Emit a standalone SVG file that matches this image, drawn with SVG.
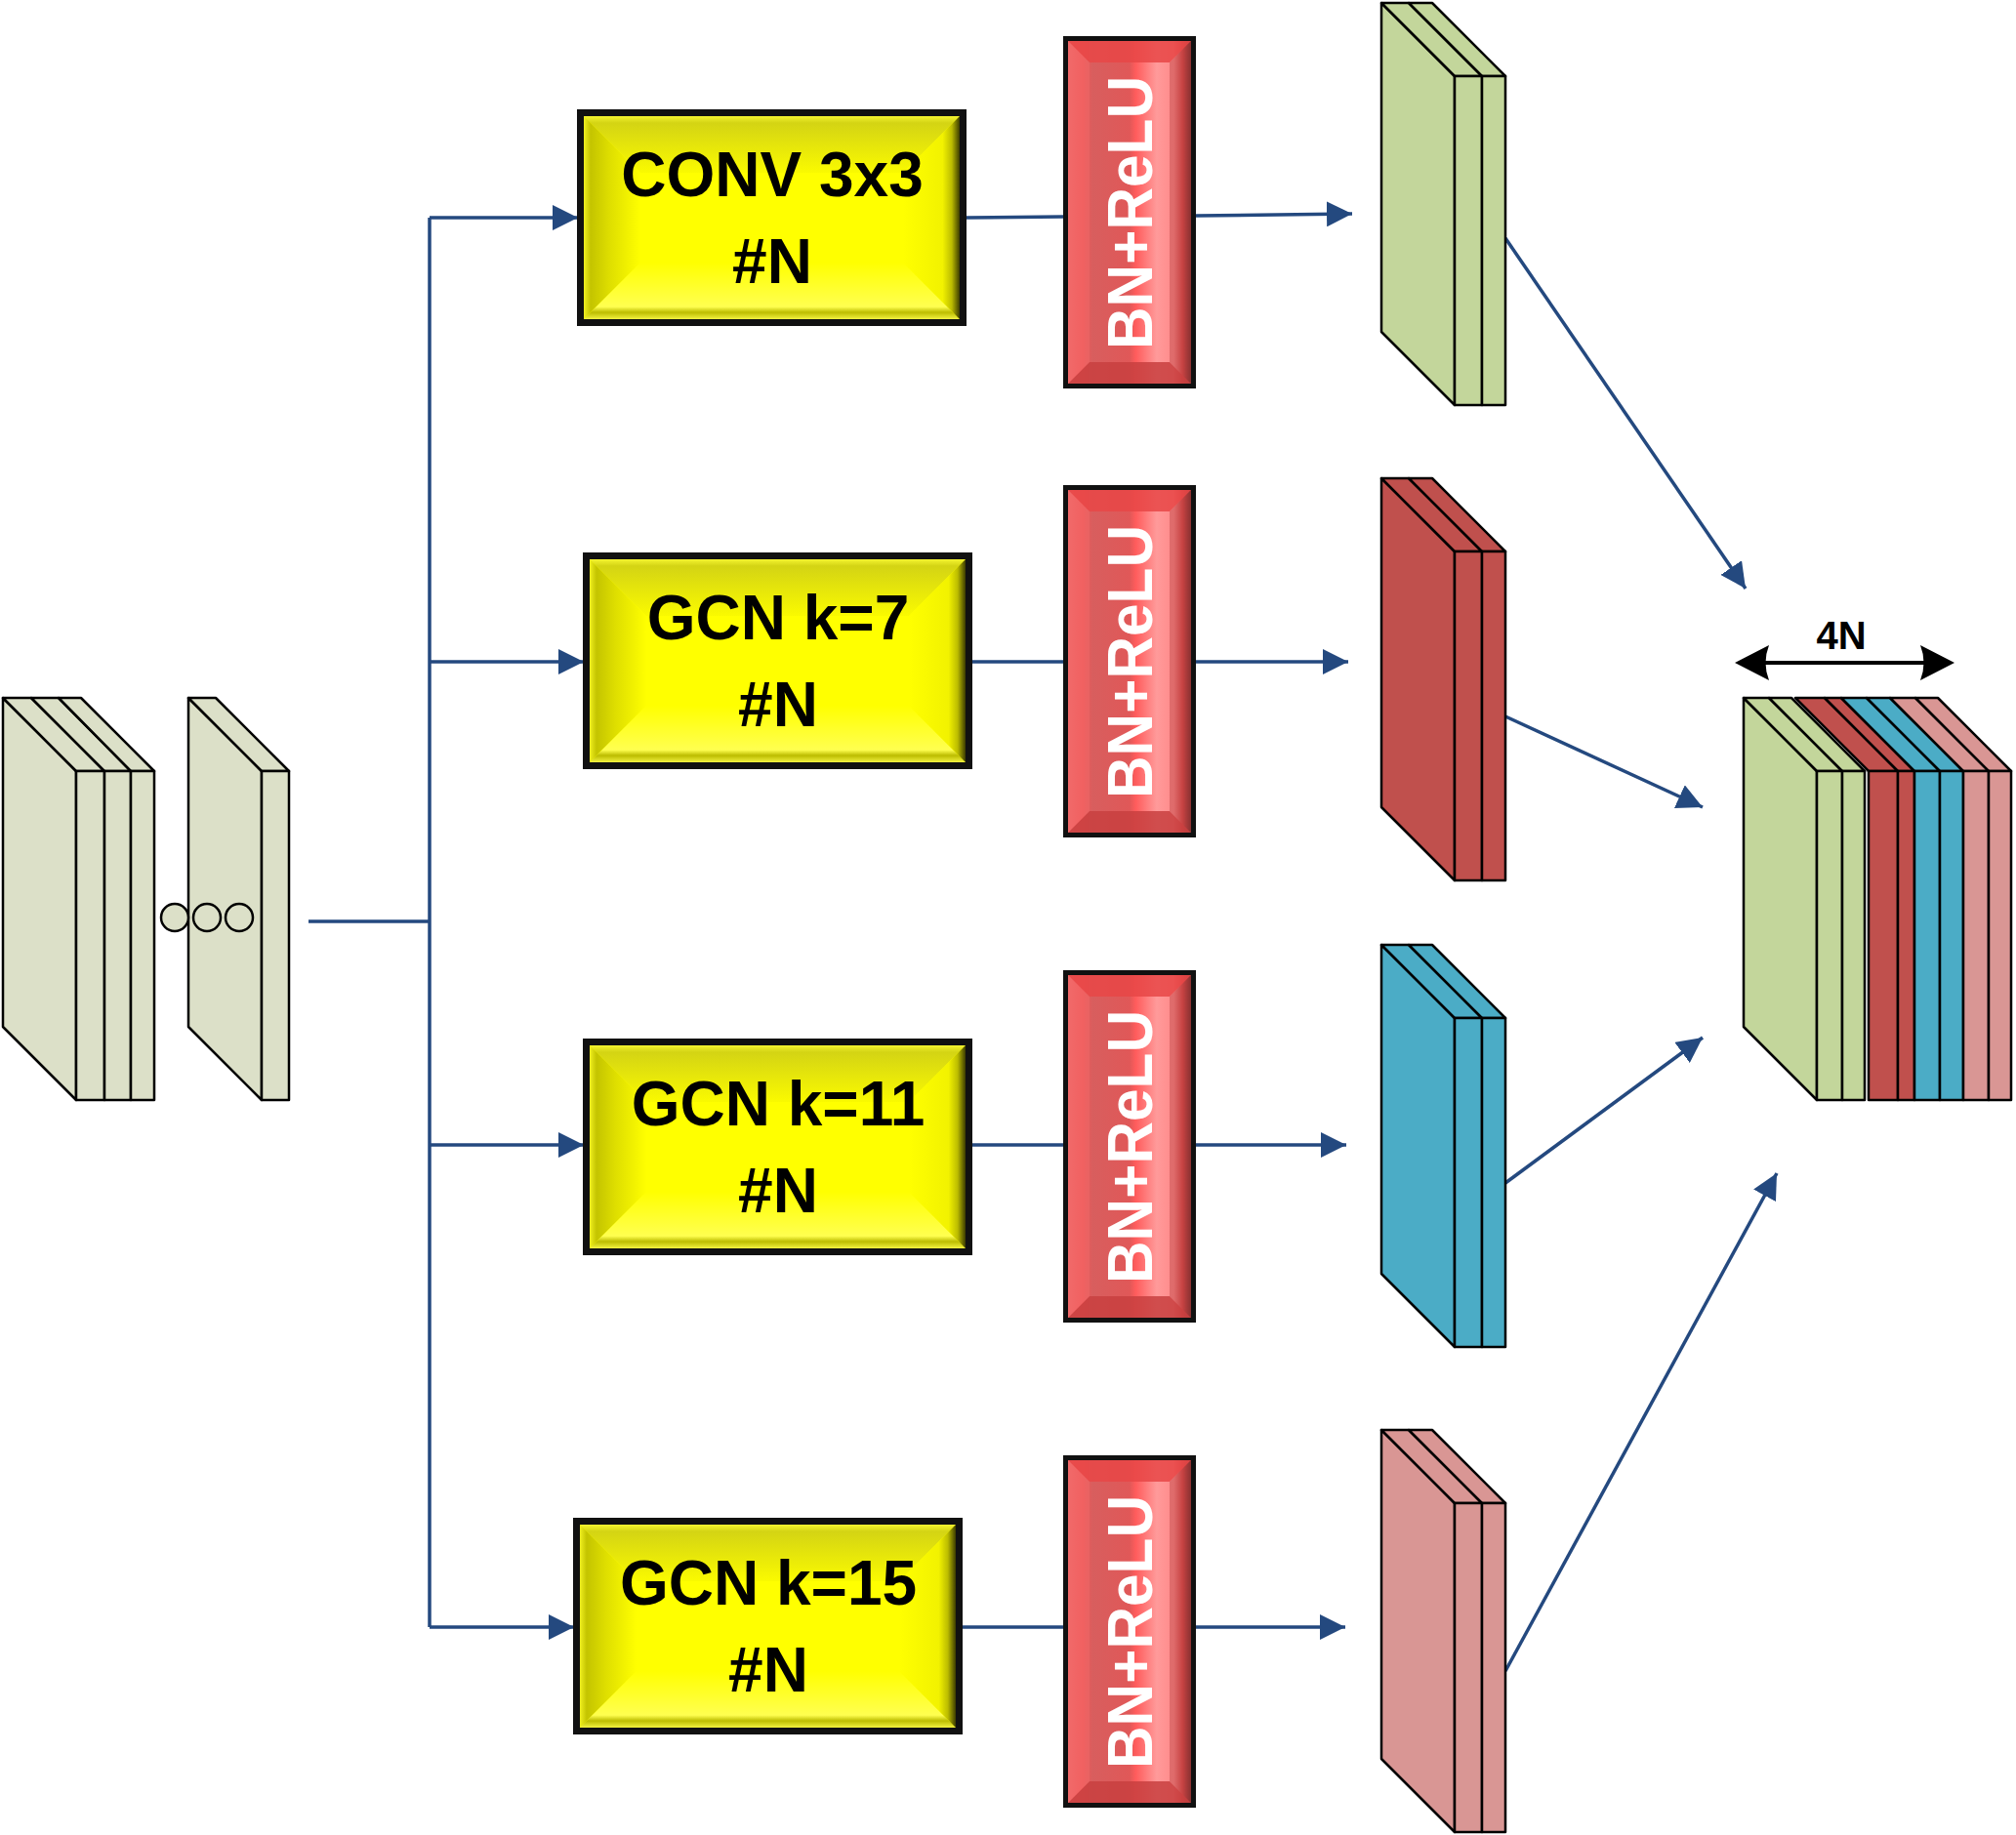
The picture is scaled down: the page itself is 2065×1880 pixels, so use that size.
<svg xmlns="http://www.w3.org/2000/svg" xmlns:xlink="http://www.w3.org/1999/xlink" width="2065" height="1880" viewBox="0 0 2065 1880">
<style>
.lbl{font-family:"Liberation Sans",Arial,sans-serif;font-weight:bold;font-size:64px;fill:#000;text-anchor:middle}
.bn{font-family:"Liberation Sans",Arial,sans-serif;font-weight:bold;font-size:64px;fill:#fff;text-anchor:middle}
.fm{stroke:#000;stroke-width:2.5;stroke-linejoin:round}
.g{fill:#c3d69b}.r{fill:#c0504d}.b{fill:#4bacc6}.p{fill:#d99694}.i{fill:#dce0c8}
.con{fill:none;stroke:#24497f;stroke-width:3.5}
</style>
<defs>
<marker id="ah" viewBox="0 0 10 10" refX="10" refY="5" markerWidth="26" markerHeight="26" markerUnits="userSpaceOnUse" orient="auto">
<path d="M0,0 L10,5 L0,10 z" fill="#24497f"/>
</marker>
<linearGradient id="yt" x1="0" y1="0" x2="0" y2="1">
<stop offset="0" stop-color="#f4f430"/><stop offset="0.12" stop-color="#d4d414"/><stop offset="1" stop-color="#fafa00"/>
</linearGradient>
<linearGradient id="yl" x1="0" y1="0" x2="1" y2="0">
<stop offset="0" stop-color="#f0f020"/><stop offset="0.12" stop-color="#c4c400"/><stop offset="0.45" stop-color="#dede00"/><stop offset="1" stop-color="#ffff00"/>
</linearGradient>
<linearGradient id="yb" x1="0" y1="0" x2="0" y2="1">
<stop offset="0" stop-color="#ffff00"/><stop offset="0.78" stop-color="#ffff50"/><stop offset="0.88" stop-color="#bcbc00"/><stop offset="1" stop-color="#f2f240"/>
</linearGradient>
<linearGradient id="yr" x1="0" y1="0" x2="1" y2="0">
<stop offset="0" stop-color="#ffff00"/><stop offset="0.7" stop-color="#f2f200"/><stop offset="0.86" stop-color="#bcbc00"/><stop offset="1" stop-color="#3c3c00"/>
</linearGradient>
<linearGradient id="rc" x1="0" y1="0" x2="1" y2="0">
<stop offset="0" stop-color="#f26a6a"/><stop offset="0.12" stop-color="#f25858"/><stop offset="0.2" stop-color="#d85e5e"/><stop offset="0.5" stop-color="#e05858"/><stop offset="0.55" stop-color="#ff5c5c"/><stop offset="0.72" stop-color="#ff9a9a"/><stop offset="0.86" stop-color="#ff8a8a"/><stop offset="0.93" stop-color="#d84848"/><stop offset="1" stop-color="#6e2a2a"/>
</linearGradient>
<g id="ybox">
<rect x="0" y="0" width="399" height="222" fill="#111"/>
<rect x="7" y="7" width="385" height="208" fill="#ffff00"/>
<polygon points="7,7 392,7 334,65 65,65" fill="url(#yt)"/>
<polygon points="7,7 65,65 65,157 7,215" fill="url(#yl)"/>
<polygon points="7,215 65,157 334,157 392,215" fill="url(#yb)"/>
<polygon points="392,7 392,215 334,157 334,65" fill="url(#yr)"/>
</g>
<g id="rbox">
<rect x="0" y="0" width="136" height="361" fill="#111"/>
<rect x="5" y="5" width="126" height="351" fill="url(#rc)"/>
<polygon points="5,5 131,5 109,27 27,27" fill="#e84646" opacity="0.85"/>
<polygon points="5,356 27,334 109,334 131,356" fill="#c84040" opacity="0.85"/>
<polygon points="5,5 27,27 27,334 5,356" fill="#f06a6a" opacity="0.5"/>
<polygon points="131,5 109,27 109,334 131,356" fill="#b03c3c" opacity="0.4"/>
</g>
</defs>
<rect width="2065" height="1880" fill="#fff"/>

<g id="input">
<polygon class="fm i" points="3,715 78,790 78,1127 3,1052"/>
<polygon class="fm i" points="3,715 32,715 107,790 78,790"/>
<polygon class="fm i" points="32,715 60,715 134,790 107,790"/>
<polygon class="fm i" points="60,715 83,715 158,790 134,790"/>
<rect class="fm i" x="78" y="790" width="29" height="337"/>
<rect class="fm i" x="107" y="790" width="27" height="337"/>
<rect class="fm i" x="134" y="790" width="24" height="337"/>
<polygon class="fm i" points="193,715 268,790 268,1127 193,1052"/>
<polygon class="fm i" points="193,715 221,715 296,790 268,790"/>
<rect class="fm i" x="268" y="790" width="28" height="337"/>
<circle class="fm i" cx="179" cy="940" r="14"/>
<circle class="fm i" cx="212" cy="940" r="14"/>
<circle class="fm i" cx="245" cy="940" r="14"/>
</g>

<g id="connectors">
<polyline class="con" points="316,944 440,944"/>
<polyline class="con" points="440,223 440,1667"/>
<line class="con" x1="440" y1="223" x2="592" y2="223" marker-end="url(#ah)"/>
<line class="con" x1="440" y1="678" x2="598" y2="678" marker-end="url(#ah)"/>
<line class="con" x1="440" y1="1173" x2="598" y2="1173" marker-end="url(#ah)"/>
<line class="con" x1="440" y1="1667" x2="588" y2="1667" marker-end="url(#ah)"/>
<line class="con" x1="990" y1="223" x2="1089" y2="222"/>
<line class="con" x1="996" y1="678" x2="1089" y2="678"/>
<line class="con" x1="996" y1="1173" x2="1089" y2="1173"/>
<line class="con" x1="986" y1="1667" x2="1089" y2="1667"/>
<line class="con" x1="1225" y1="221" x2="1385" y2="219" marker-end="url(#ah)"/>
<line class="con" x1="1225" y1="678" x2="1381" y2="678" marker-end="url(#ah)"/>
<line class="con" x1="1225" y1="1173" x2="1379" y2="1173" marker-end="url(#ah)"/>
<line class="con" x1="1225" y1="1667" x2="1378" y2="1667" marker-end="url(#ah)"/>
<line class="con" x1="1542" y1="244" x2="1788" y2="603" marker-end="url(#ah)"/>
<line class="con" x1="1542" y1="734" x2="1744" y2="827" marker-end="url(#ah)"/>
<line class="con" x1="1542" y1="1212" x2="1744" y2="1063" marker-end="url(#ah)"/>
<line class="con" x1="1542" y1="1712" x2="1820" y2="1202" marker-end="url(#ah)"/>
</g>

<g id="conv3x3" transform="translate(591,112)">
<use xlink:href="#ybox"/>
<text class="lbl" x="200" y="89">CONV 3x3</text>
<text class="lbl" x="200" y="178">#N</text>
</g>
<g id="gcn7" transform="translate(597,566)">
<use xlink:href="#ybox"/>
<text class="lbl" x="200" y="89">GCN k=7</text>
<text class="lbl" x="200" y="178">#N</text>
</g>
<g id="gcn11" transform="translate(597,1064)">
<use xlink:href="#ybox"/>
<text class="lbl" x="200" y="89">GCN k=11</text>
<text class="lbl" x="200" y="178">#N</text>
</g>
<g id="gcn15" transform="translate(587,1555)">
<use xlink:href="#ybox"/>
<text class="lbl" x="200" y="89">GCN k=15</text>
<text class="lbl" x="200" y="178">#N</text>
</g>

<g id="bn1" transform="translate(1089,37)">
<use xlink:href="#rbox"/>
<text class="bn" transform="translate(91,181) rotate(-90)" textLength="280" lengthAdjust="spacingAndGlyphs">BN+ReLU</text>
</g>
<g id="bn2" transform="translate(1089,497)">
<use xlink:href="#rbox"/>
<text class="bn" transform="translate(91,181) rotate(-90)" textLength="280" lengthAdjust="spacingAndGlyphs">BN+ReLU</text>
</g>
<g id="bn3" transform="translate(1089,994)">
<use xlink:href="#rbox"/>
<text class="bn" transform="translate(91,181) rotate(-90)" textLength="280" lengthAdjust="spacingAndGlyphs">BN+ReLU</text>
</g>
<g id="bn4" transform="translate(1089,1491)">
<use xlink:href="#rbox"/>
<text class="bn" transform="translate(91,181) rotate(-90)" textLength="280" lengthAdjust="spacingAndGlyphs">BN+ReLU</text>
</g>

<g id="fmap-green" transform="translate(0,3)">
<polygon class="fm g" points="1415,0 1490,75 1490,412 1415,337"/>
<polygon class="fm g" points="1415,0 1443,0 1518,75 1490,75"/>
<polygon class="fm g" points="1443,0 1467,0 1542,75 1518,75"/>
<rect class="fm g" x="1490" y="75" width="28" height="337"/>
<rect class="fm g" x="1518" y="75" width="24" height="337"/>
</g>
<g id="fmap-red" transform="translate(0,490)">
<polygon class="fm r" points="1415,0 1490,75 1490,412 1415,337"/>
<polygon class="fm r" points="1415,0 1443,0 1518,75 1490,75"/>
<polygon class="fm r" points="1443,0 1467,0 1542,75 1518,75"/>
<rect class="fm r" x="1490" y="75" width="28" height="337"/>
<rect class="fm r" x="1518" y="75" width="24" height="337"/>
</g>
<g id="fmap-blue" transform="translate(0,968)">
<polygon class="fm b" points="1415,0 1490,75 1490,412 1415,337"/>
<polygon class="fm b" points="1415,0 1443,0 1518,75 1490,75"/>
<polygon class="fm b" points="1443,0 1467,0 1542,75 1518,75"/>
<rect class="fm b" x="1490" y="75" width="28" height="337"/>
<rect class="fm b" x="1518" y="75" width="24" height="337"/>
</g>
<g id="fmap-pink" transform="translate(0,1465)">
<polygon class="fm p" points="1415,0 1490,75 1490,412 1415,337"/>
<polygon class="fm p" points="1415,0 1443,0 1518,75 1490,75"/>
<polygon class="fm p" points="1443,0 1467,0 1542,75 1518,75"/>
<rect class="fm p" x="1490" y="75" width="28" height="337"/>
<rect class="fm p" x="1518" y="75" width="24" height="337"/>
</g>

<g id="output">
<text class="lbl" x="1886" y="665" style="font-size:40px">4N</text>
<line x1="1800" y1="679" x2="1980" y2="679" stroke="#000" stroke-width="4"/>
<path d="M1777,679 L1812,661 Q1805,679 1812,697 Z" fill="#000"/>
<path d="M2002,679 L1967,661 Q1974,679 1967,697 Z" fill="#000"/>
<polygon class="fm g" points="1786,715 1861,790 1861,1127 1786,1052"/>
<polygon class="fm g" points="1786,715 1812,715 1887,790 1861,790"/>
<polygon class="fm g" points="1812,715 1835,715 1910,790 1887,790"/>
<polygon class="fm r" points="1839,715 1869,715 1944,790 1914,790"/>
<polygon class="fm r" points="1869,715 1886,715 1961,790 1944,790"/>
<polygon class="fm b" points="1886,715 1912,715 1987,790 1961,790"/>
<polygon class="fm b" points="1912,715 1936,715 2011,790 1987,790"/>
<polygon class="fm p" points="1936,715 1962,715 2037,790 2011,790"/>
<polygon class="fm p" points="1962,715 1985,715 2060,790 2037,790"/>
<rect class="fm g" x="1861" y="790" width="26" height="337"/>
<rect class="fm g" x="1887" y="790" width="23" height="337"/>
<rect class="fm r" x="1914" y="790" width="30" height="337"/>
<rect class="fm r" x="1944" y="790" width="17" height="337"/>
<rect class="fm b" x="1961" y="790" width="26" height="337"/>
<rect class="fm b" x="1987" y="790" width="24" height="337"/>
<rect class="fm p" x="2011" y="790" width="26" height="337"/>
<rect class="fm p" x="2037" y="790" width="23" height="337"/>
</g>
</svg>
